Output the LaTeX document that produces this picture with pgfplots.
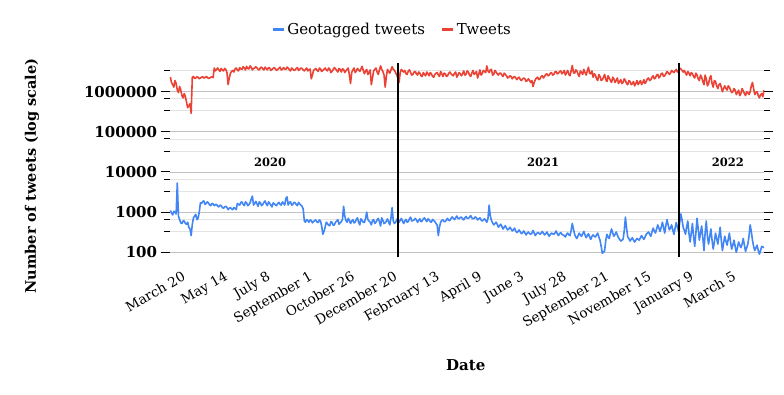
\documentclass[border=0pt]{standalone}
\usepackage{pgfplots}
\pgfplotsset{compat=1.18}
\usepackage{pgfplotstable}
\usepackage{fontspec}
\setmainfont{DejaVu Serif}
\definecolor{gblue}{HTML}{4285F4}
\definecolor{gred}{HTML}{EA4335}

\pgfplotstableread{
d r b
-9 2.3e6 1100
-7.5 1.7e6 950
-6 1.5e6 850
-4.5 1.3e6 1050
-3 1.9e6 1000
-1.5 1.6e6 900
0 1.1e6 5300
1.5 0.95e6 800
3 1.35e6 650
4.5 1.1e6 540
6 0.8e6 520
7.5 0.7e6 600
9 0.9e6 600
10.5 0.75e6 520
12 0.55e6 500
13.5 0.4e6 560
15 0.45e6 420
16.5 0.5e6 380
18 0.29e6 260
19.5 2.3e6 500
21 2.4e6 720
22.5 2.15e6 800
24 2.2e6 880
25.5 2.35e6 650
27 2.3e6 700
28.5 2.1e6 1000
30 2.2e6 1700
31.5 2.3e6 1650
33 2.35e6 1850
34.5 2.2e6 1900
36 2.25e6 1550
37.5 2.4e6 1650
39 2.3e6 1800
40.5 2.15e6 1700
42 2.2e6 1500
43.5 2.3e6 1450
45 2.35e6 1650
46.5 2.25e6 1600
48 3.9e6 1450
49.5 3.3e6 1550
51 3.6e6 1550
52.5 3.9e6 1400
54 3.5e6 1350
55.5 3.2e6 1500
57 3.8e6 1450
58.5 3.5e6 1300
60 3.3e6 1250
61.5 3.8e6 1350
63 3.6e6 1400
64.5 3.0e6 1300
66 1.5e6 1150
67.5 2.2e6 1250
69 2.9e6 1300
70.5 3.2e6 1200
72 3.4e6 1150
73.5 3.1e6 1300
75 3.7e6 1250
76.5 3.9e6 1150
78 3.5e6 1650
79.5 3.3e6 1550
81 4.0e6 1500
82.5 3.7e6 1750
84 3.6e6 1800
85.5 4.2e6 1550
87 3.9e6 1450
88.5 3.5e6 1800
90 4.3e6 1700
91.5 3.8e6 1450
93 3.7e6 1550
94.5 4.4e6 1700
96 4.1e6 2100
97.5 3.5e6 2500
99 3.8e6 1500
100.5 3.9e6 1650
102 4.2e6 1850
103.5 3.9e6 1600
105 3.6e6 1400
106.5 3.5e6 1800
108 4.0e6 1700
109.5 4.1e6 1450
111 3.7e6 1550
112.5 3.5e6 1750
114 4.1e6 1900
115.5 3.8e6 1600
117 3.5e6 1450
118.5 4.0e6 1800
120 3.9e6 1650
121.5 3.4e6 1500
123 3.6e6 1350
124.5 3.8e6 1700
126 4.0e6 1600
127.5 3.7e6 1500
129 3.4e6 1450
130.5 3.6e6 1650
132 3.8e6 1750
133.5 4.1e6 1550
135 3.5e6 1500
136.5 3.6e6 1800
138 4.0e6 1650
139.5 3.7e6 1500
141 3.6e6 2200
142.5 4.1e6 2400
144 3.9e6 1500
145.5 3.5e6 1750
147 3.3e6 1800
148.5 3.9e6 1500
150 3.7e6 1550
151.5 3.4e6 1750
153 3.5e6 1700
154.5 3.8e6 1550
156 4.0e6 1450
157.5 3.4e6 1750
159 3.6e6 1600
160.5 3.9e6 1500
162 3.8e6 1400
163.5 3.5e6 1200
165 3.3e6 600
166.5 3.6e6 560
168 3.9e6 650
169.5 3.3e6 620
171 3.5e6 560
172.5 3.7e6 640
174 2.1e6 620
175.5 2.6e6 540
177 3.4e6 580
178.5 3.6e6 620
180 3.8e6 640
181.5 3.4e6 560
183 3.2e6 550
184.5 3.9e6 640
186 3.7e6 600
187.5 3.2e6 450
189 3.4e6 280
190.5 3.6e6 330
192 3.9e6 420
193.5 3.5e6 560
195 3.3e6 520
196.5 3.9e6 470
198 3.7e6 460
199.5 3.0e6 580
201 3.2e6 560
202.5 3.6e6 470
204 4.0e6 480
205.5 3.7e6 560
207 3.4e6 600
208.5 3.1e6 650
210 3.8e6 500
211.5 3.6e6 540
213 3.1e6 580
214.5 3.7e6 650
216 3.6e6 1400
217.5 3.0e6 800
219 3.3e6 620
220.5 3.6e6 560
222 3.9e6 700
223.5 2.6e6 620
225 1.6e6 520
226.5 3.0e6 600
228 3.5e6 650
229.5 3.9e6 540
231 3.0e6 560
232.5 3.3e6 660
234 3.8e6 720
235.5 3.5e6 560
237 3.2e6 480
238.5 3.7e6 680
240 4.3e6 620
241.5 3.4e6 560
243 2.8e6 550
244.5 3.3e6 700
246 3.6e6 1000
247.5 2.7e6 650
249 3.0e6 600
250.5 3.5e6 560
252 1.5e6 480
253.5 2.2e6 620
255 3.3e6 650
256.5 3.6e6 520
258 3.9e6 560
259.5 3.1e6 640
261 2.7e6 700
262.5 3.5e6 580
264 4.4e6 450
265.5 3.6e6 720
267 3.2e6 620
268.5 2.6e6 520
270 1.3e6 540
271.5 2.4e6 600
273 3.6e6 680
274.5 3.2e6 560
276 2.9e6 480
277.5 3.5e6 720
279 4.2e6 1300
280.5 3.6e6 600
282 3.4e6 520
283.5 3.0e6 560
285 2.6e6 640
286.5 2.2e6 720
288 1.7e6 560
289.5 3.0e6 620
291 3.6e6 700
292.5 3.3e6 600
294 3.1e6 520
295.5 3.4e6 600
297 2.8e6 660
298.5 2.7e6 560
300 3.3e6 580
301.5 3.5e6 680
303 3.0e6 750
304.5 2.6e6 600
306 2.7e6 620
307.5 3.1e6 640
309 3.2e6 700
310.5 2.8e6 640
312 2.6e6 560
313.5 3.1e6 620
315 2.9e6 680
316.5 2.5e6 580
318 2.4e6 600
319.5 3.0e6 680
321 2.7e6 720
322.5 2.5e6 640
324 3.1e6 580
325.5 2.8e6 680
327 2.5e6 640
328.5 3.0e6 580
330 2.8e6 560
331.5 2.4e6 660
333 2.3e6 620
334.5 2.7e6 580
336 2.9e6 520
337.5 3.0e6 480
339 2.6e6 260
340.5 2.4e6 420
342 3.2e6 560
343.5 2.8e6 620
345 2.4e6 640
346.5 2.9e6 580
348 2.8e6 580
349.5 2.4e6 640
351 2.5e6 700
352.5 2.9e6 620
354 3.1e6 620
355.5 2.8e6 700
357 2.6e6 760
358.5 2.5e6 700
360 2.9e6 650
361.5 3.1e6 720
363 2.3e6 800
364.5 2.6e6 700
366 3.0e6 680
367.5 2.8e6 740
369 2.5e6 750
370.5 2.8e6 680
372 3.3e6 640
373.5 2.6e6 720
375 2.7e6 780
376.5 3.3e6 700
378 3.1e6 700
379.5 2.6e6 750
381 2.4e6 820
382.5 2.9e6 720
384 3.4e6 680
385.5 2.7e6 700
387 2.9e6 760
388.5 3.2e6 720
390 2.2e6 640
391.5 2.7e6 680
393 3.5e6 720
394.5 2.6e6 640
396 2.8e6 600
397.5 3.4e6 640
399 3.2e6 680
400.5 3.0e6 620
402 4.4e6 560
403.5 3.3e6 700
405 3.0e6 1500
406.5 3.5e6 800
408 3.6e6 620
409.5 2.6e6 540
411 2.7e6 480
412.5 3.4e6 520
414 3.1e6 560
415.5 2.8e6 500
417 2.6e6 420
418.5 2.9e6 460
420 2.9e6 500
421.5 2.6e6 440
423 2.4e6 380
424.5 2.9e6 420
426 2.7e6 460
427.5 2.5e6 400
429 2.2e6 360
430.5 2.3e6 380
432 2.5e6 420
433.5 2.4e6 380
435 2.1e6 340
436.5 2.3e6 360
438 2.4e6 400
439.5 2.2e6 340
441 2.0e6 310
442.5 2.2e6 330
444 2.3e6 360
445.5 2.0e6 320
447 1.9e6 290
448.5 2.1e6 310
450 2.2e6 340
451.5 2.1e6 300
453 1.8e6 270
454.5 1.9e6 300
456 2.1e6 320
457.5 1.9e6 290
459 1.7e6 280
460.5 1.9e6 300
462 1.35e6 350
463.5 1.7e6 300
465 2.0e6 260
466.5 2.2e6 290
468 2.3e6 310
469.5 2.0e6 300
471 2.1e6 280
472.5 2.4e6 300
474 2.5e6 330
475.5 2.2e6 300
477 2.4e6 270
478.5 2.7e6 290
480 2.8e6 320
481.5 2.5e6 280
483 2.6e6 250
484.5 2.9e6 280
486 3.0e6 300
487.5 2.6e6 290
489 2.7e6 280
490.5 3.1e6 300
492 3.2e6 340
493.5 2.8e6 290
495 2.9e6 260
496.5 3.2e6 290
498 3.3e6 310
499.5 2.8e6 280
501 3.0e6 270
502.5 3.4e6 260
504 2.6e6 240
505.5 3.0e6 280
507 3.4e6 300
508.5 2.7e6 270
510 2.5e6 260
511.5 3.3e6 350
513 4.5e6 520
514.5 3.0e6 380
516 2.9e6 280
517.5 3.5e6 240
519 3.3e6 220
520.5 2.7e6 260
522 2.4e6 300
523.5 3.3e6 270
525 3.0e6 250
526.5 2.7e6 290
528 3.6e6 330
529.5 3.0e6 270
531 2.6e6 230
532.5 3.3e6 260
534 4.1e6 290
535.5 2.9e6 240
537 2.8e6 210
538.5 3.3e6 250
540 2.3e6 270
541.5 2.8e6 250
543 2.6e6 240
544.5 2.1e6 270
546 1.9e6 300
547.5 2.7e6 240
549 2.4e6 200
550.5 1.9e6 140
552 2.0e6 95
553.5 2.3e6 100
555 2.7e6 110
556.5 2.0e6 200
558 1.8e6 280
559.5 2.5e6 240
561 2.2e6 220
562.5 1.9e6 300
564 1.7e6 380
565.5 2.3e6 300
567 2.1e6 250
568.5 1.7e6 280
570 1.9e6 320
571.5 2.2e6 270
573 1.6e6 230
574.5 1.8e6 210
576 2.0e6 190
577.5 1.6e6 200
579 1.7e6 210
580.5 2.1e6 350
582 1.9e6 750
583.5 1.6e6 400
585 1.5e6 240
586.5 1.9e6 220
588 1.8e6 190
589.5 1.5e6 210
591 1.6e6 230
592.5 1.8e6 200
594 1.4e6 180
595.5 1.6e6 200
597 1.9e6 220
598.5 1.5e6 210
600 1.7e6 200
601.5 1.9e6 230
603 1.5e6 260
604.5 1.7e6 230
606 2.0e6 210
607.5 1.6e6 240
609 1.8e6 280
610.5 2.1e6 300
612 2.2e6 320
613.5 1.9e6 280
615 2.0e6 250
616.5 2.3e6 320
618 2.5e6 400
619.5 2.1e6 340
621 2.2e6 300
622.5 2.6e6 380
624 2.7e6 480
625.5 2.2e6 400
627 2.4e6 330
628.5 2.8e6 420
630 2.9e6 560
631.5 2.4e6 420
633 2.5e6 300
634.5 2.8e6 460
636 3.2e6 650
637.5 3.0e6 480
639 2.7e6 360
640.5 2.9e6 400
642 3.4e6 480
643.5 3.2e6 360
645 3.0e6 280
646.5 3.3e6 400
648 3.6e6 550
649.5 3.1e6 420
651 3.3e6 330
652.5 3.9e6 550
654 3.7e6 900
655.5 3.4e6 650
657 3.1e6 420
658.5 3.4e6 350
660 2.9e6 280
661.5 2.6e6 420
663 3.2e6 600
664.5 2.9e6 300
666 2.5e6 180
667.5 3.0e6 300
669 2.8e6 520
670.5 2.4e6 250
672 2.2e6 140
673.5 2.9e6 300
675 2.6e6 700
676.5 2.1e6 380
678 1.9e6 200
679.5 2.6e6 300
681 2.3e6 450
682.5 1.8e6 230
684 1.5e6 110
685.5 2.6e6 300
687 2.1e6 600
688.5 1.4e6 250
690 1.6e6 160
691.5 2.2e6 250
693 2.5e6 380
694.5 1.6e6 200
696 1.3e6 120
697.5 1.9e6 180
699 1.8e6 300
700.5 1.4e6 220
702 1.2e6 160
703.5 1.5e6 250
705 1.6e6 420
706.5 1.3e6 200
708 1.0e6 110
709.5 1.2e6 170
711 1.4e6 250
712.5 1.2e6 190
714 1.1e6 150
715.5 1.4e6 210
717 1.3e6 300
718.5 1.1e6 180
720 0.95e6 120
721.5 1.0e6 150
723 1.2e6 200
724.5 1.1e6 140
726 0.85e6 100
727.5 0.95e6 130
729 1.1e6 180
730.5 0.8e6 150
732 0.9e6 130
733.5 1.2e6 160
735 1.05e6 220
736.5 0.9e6 150
738 0.8e6 105
739.5 1.0e6 130
741 0.95e6 160
742.5 0.85e6 250
744 1.0e6 480
745.5 1.4e6 330
747 1.7e6 200
748.5 1.2e6 140
750 0.85e6 110
751.5 0.95e6 130
753 1.0e6 150
754.5 0.8e6 110
756 0.7e6 90
757.5 0.85e6 110
759 0.9e6 140
760.5 0.75e6 135
762 1.1e6 130
}\data

\begin{document}
\begin{tikzpicture}
\path[use as bounding box] (0,0) rectangle (784bp,395bp);
\begin{axis}[
  at={(169.6bp,137.5bp)}, anchor=south west,
  scale only axis, width=594.8bp, height=194.5bp,
  xmin=-10, xmax=762.5,
  ymode=log, ymin=74, ymax=5.2e6,
  axis line style={draw=none},
  xtick={0,55,...,715},
  xticklabels={March 20, May 14, July 8, September 1, October 26, December 20, February 13, April 9, June 3, July 28, September 21, November 15, January 9, March 5},
  xtick style={draw=none},
  xticklabel style={font=\fontsize{13.5bp}{16bp}\selectfont, rotate=30, anchor=north east, inner sep=1bp, yshift=-12bp, xshift=-2bp},
  ytick={100,1000,10000,100000,1000000},
  yticklabels={100,1000,10000,100000,1000000},
  yticklabel style={font=\fontsize{15bp}{17bp}\selectfont\bfseries},
  minor ytick={333.33,666.67,3333.3,6666.7,33333,66667,333333,666667,3333333},
  ymajorgrids, yminorgrids,
  major grid style={draw=black!24, line width=0.8bp},
  minor grid style={draw=black!11, line width=0.8bp},
  ytick align=outside,
  major tick length=9bp, minor tick length=6bp,
  ytick style={black, line width=1bp},
  xlabel={Date},
  xlabel style={at={(axis description cs:0.498,-0.553)}, anchor=center, font=\fontsize{15bp}{18bp}\selectfont\bfseries},
  ylabel={Number of tweets (log scale)},
  ylabel style={at={(axis description cs:-0.2313,0.419)}, anchor=center, font=\fontsize{14.5bp}{17bp}\selectfont\bfseries},
  legend style={at={(0.374,1.170)}, anchor=center, draw=none, fill=none, legend columns=2, font=\fontsize{15bp}{18bp}\selectfont, /tikz/every even column/.append style={column sep=14bp}},
  legend image code/.code={\draw[#1, line width=3bp] (0bp,0bp) -- (11bp,0bp);},
]
\addplot[gblue, line width=1.6bp, line join=round] table[x=d, y=b] {\data};
\addlegendentry{Geotagged tweets}
\addplot[gred, line width=1.6bp, line join=round] table[x=d, y=r] {\data};
\addlegendentry{Tweets}
\addplot[black, line width=1.8bp, forget plot] coordinates {(287,74) (287,5.2e6)};
\addplot[black, line width=1.8bp, forget plot] coordinates {(652,74) (652,5.2e6)};
\node[font=\fontsize{11.5bp}{13bp}\selectfont\bfseries] at (axis cs:120.7,17750) {2020};
\node[font=\fontsize{11.5bp}{13bp}\selectfont\bfseries] at (axis cs:475,17750) {2021};
\node[font=\fontsize{11.5bp}{13bp}\selectfont\bfseries] at (axis cs:715,17750) {2022};
\end{axis}
\end{tikzpicture}
\end{document}
